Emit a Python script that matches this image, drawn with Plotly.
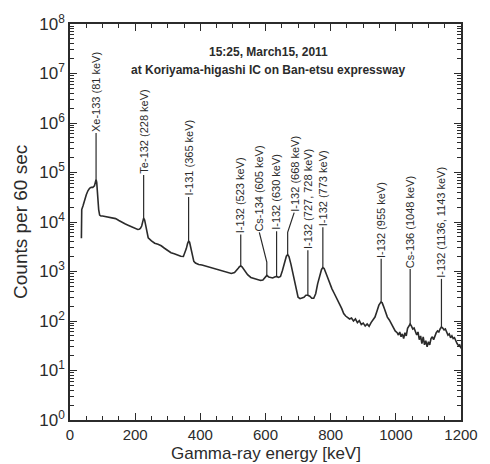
import numpy as np
import plotly.graph_objects as go

# Gamma-ray spectrum: energy [keV] and counts per 60 s
energy_kev = [35, 36, 40, 45, 50, 55, 60, 65, 70, 75, 78, 80, 82, 85, 88, 91, 95, 100,
              110, 120, 130, 140, 150, 160, 170, 180, 190, 200, 208, 212, 216, 220, 223,
              226, 229, 232, 236, 240, 250, 260, 270, 280, 290, 300, 310, 320, 330, 340,
              348, 352, 357, 361, 364, 367, 370, 375, 380, 385, 395, 405, 415, 425, 435,
              445, 455, 465, 475, 485, 495, 505, 510, 515, 520, 524, 528, 532, 538, 545,
              555, 565, 575, 585, 592, 598, 604, 610, 616, 622, 628, 634, 640, 646, 652,
              658, 664, 668, 672, 678, 684, 690, 695, 700, 706, 712, 718, 724, 730, 736,
              742, 748, 754, 760, 766, 772, 776, 780, 786, 792, 798, 804, 810, 816, 822,
              828, 834, 840, 846, 852, 858, 864, 870, 876, 882, 888, 894, 900, 906, 912,
              918, 924, 930, 936, 942, 948, 954, 958, 962, 968, 974, 980, 986, 992, 998,
              1004, 1008, 1012, 1016, 1020, 1024, 1028, 1032, 1036, 1040, 1044, 1048, 1052,
              1056, 1060, 1064, 1068, 1072, 1076, 1080, 1084, 1088, 1092, 1096, 1100, 1104,
              1108, 1112, 1116, 1120, 1124, 1128, 1132, 1136, 1140, 1144, 1148, 1152, 1156,
              1160, 1164, 1168, 1172, 1176, 1180, 1184, 1188, 1192, 1196, 1200]
counts = [4700, 17800, 21400, 28200, 35500, 42700, 47900, 50100, 50000, 53700, 63100, 72400,
          63100, 31600, 17800, 13800, 13200, 13200, 12900, 12600, 12300, 11700, 10700, 9770,
          9120, 8510, 7940, 7410, 7080, 7150, 7400, 8300, 10500, 12000, 11000, 8500, 6000,
          4800, 4170, 3720, 3550, 3310, 2950, 2630, 2400, 2290, 2140, 2040, 2010, 2300, 2900,
          3700, 4100, 3900, 3200, 2100, 1600, 1480, 1380, 1350, 1290, 1230, 1170, 1150, 1100,
          1050, 977, 933, 912, 950, 1020, 1130, 1250, 1290, 1240, 1120, 980, 860, 759, 724,
          676, 661, 676, 759, 832, 776, 759, 741, 776, 794, 759, 794, 1050, 1580, 2040, 2190,
          2000, 1410, 891, 562, 380, 302, 282, 288, 302, 331, 331, 316, 288, 288, 355, 562,
          832, 1100, 1200, 1150, 912, 708, 562, 447, 372, 316, 263, 214, 178, 141, 126, 120,
          110, 115, 100, 110, 93, 102, 85, 91, 79, 87, 78, 93, 105, 120, 158, 209, 240, 234,
          200, 151, 120, 105, 87, 76, 63, 58, 52, 60, 48, 55, 44, 58, 50, 71, 79, 87, 79, 69,
          72, 58, 52, 60, 42, 50, 35, 48, 33, 40, 30, 38, 33, 44, 48, 42, 52, 58, 63, 60, 69,
          76, 72, 66, 69, 58, 52, 55, 46, 50, 44, 46, 38, 35, 32, 33, 28]

# Peak identifications
peak_labels = ["Xe-133 (81 keV)", "Te-132 (228 keV)", "I-131 (365 keV)", "I-132 (523 keV)",
               "Cs-134 (605 keV)", "I-132 (630 keV)", "I-132 (668 keV)",
               "I-132 (727, 728 keV)", "I-132 (773 keV)", "I-132 (955 keV)",
               "Cs-136 (1048 keV)", "I-132 (1136, 1143 keV)"]
peak_energy = [80, 226, 364, 524, 604, 634, 668, 730, 776, 955, 1044, 1140]

# Label placement: text x position [keV] and height of the text's lower end [counts]
label_x = [80, 226, 364, 524, 581, 634, 688, 730, 776, 955, 1044, 1140]
label_base = [6.3e5, 8.9e4, 3.2e4, 5.6e3, 6.2e3, 6.5e3, 1.55e4, 2.7e3, 7.8e3, 1.8e3, 1.12e3, 7.1e2]
# intermediate bend point of the leader (None = straight vertical leader)
leader_bend = [None, None, None, None, 1.55e3, None, 6.2e3, None, None, None, None, None]

INK = "#2b2b2b"
FONT = "Liberation Sans, Arial, Helvetica, sans-serif"

fig = go.Figure()

fig.add_trace(go.Scatter(x=energy_kev, y=counts, mode="lines",
                         line=dict(color=INK, width=1.6), hoverinfo="skip",
                         showlegend=False))

log_counts = np.log10(counts)
annotations = []
for text, e_peak, lx, base, bend in zip(peak_labels, peak_energy, label_x,
                                        label_base, leader_bend):
    top_of_peak = 10 ** np.interp(e_peak, energy_kev, log_counts)
    if bend is None:
        xs = [lx, e_peak]
        ys = [base, top_of_peak]
    else:
        xs = [lx, e_peak, e_peak]
        ys = [base, bend, top_of_peak]
    fig.add_trace(go.Scatter(x=xs, y=ys, mode="lines",
                             line=dict(color=INK, width=1.2), hoverinfo="skip",
                             showlegend=False))
    annotations.append(dict(x=lx, y=np.log10(base), xref="x", yref="y", text=text,
                            textangle=-90, showarrow=False, xanchor="center",
                            yanchor="bottom", borderpad=0,
                            font=dict(family=FONT, size=11, color=INK)))

# heading inside the frame
annotations.append(dict(x=0.507, y=0.951, xref="paper", yref="paper",
                        text="<b>15:25, March15, 2011</b>", showarrow=False,
                        font=dict(family=FONT, size=12, color=INK)))
annotations.append(dict(x=0.507, y=0.906, xref="paper", yref="paper",
                        text="<b>at Koriyama-higashi IC on Ban-etsu expressway</b>",
                        showarrow=False, font=dict(family=FONT, size=12, color=INK)))
# axis titles
annotations.append(dict(x=-0.128, y=0.5, xref="paper", yref="paper",
                        text="Counts per 60 sec", textangle=-90, showarrow=False,
                        xanchor="center", yanchor="middle",
                        font=dict(family=FONT, size=19, color=INK)))
annotations.append(dict(x=0.5, y=-0.0856, xref="paper", yref="paper",
                        text="Gamma-ray energy [keV]", showarrow=False,
                        xanchor="center", yanchor="middle", borderpad=0,
                        font=dict(family=FONT, size=17, color=INK)))

decades = list(range(0, 9))
y_major = [10.0 ** k for k in decades]
y_text = ["10<sup>%d</sup>" % k for k in decades]
y_minor = [m * 10.0 ** k for k in range(0, 8) for m in range(2, 10)]

fig.update_layout(
    width=490, height=464,
    margin=dict(l=70, r=22, t=23, b=44),
    paper_bgcolor="white", plot_bgcolor="white",
    annotations=annotations,
    font=dict(family=FONT, color=INK),
    xaxis=dict(range=[0, 1200], tickmode="array", tickvals=[0, 200, 400, 600, 800, 1000, 1200],
               ticks="inside", ticklen=7, tickwidth=1.3, tickcolor=INK,
               minor=dict(dtick=50, ticks="inside", ticklen=4, tickwidth=1.1, tickcolor=INK),
               showline=True, linecolor=INK, linewidth=1.5, mirror="ticks",
               showgrid=False, zeroline=False,
               tickfont=dict(family=FONT, size=15, color=INK)),
    yaxis=dict(type="log", range=[0, 8], tickmode="array", tickvals=y_major, ticktext=y_text,
               ticks="inside", ticklen=7, tickwidth=1.3, tickcolor=INK,
               minor=dict(tickmode="array", tickvals=y_minor, ticks="inside", ticklen=4,
                          tickwidth=1.0, tickcolor=INK),
               showline=True, linecolor=INK, linewidth=1.5, mirror="ticks",
               showgrid=False, zeroline=False,
               tickfont=dict(family=FONT, size=17, color=INK)),
)

fig.write_html("out.html")
